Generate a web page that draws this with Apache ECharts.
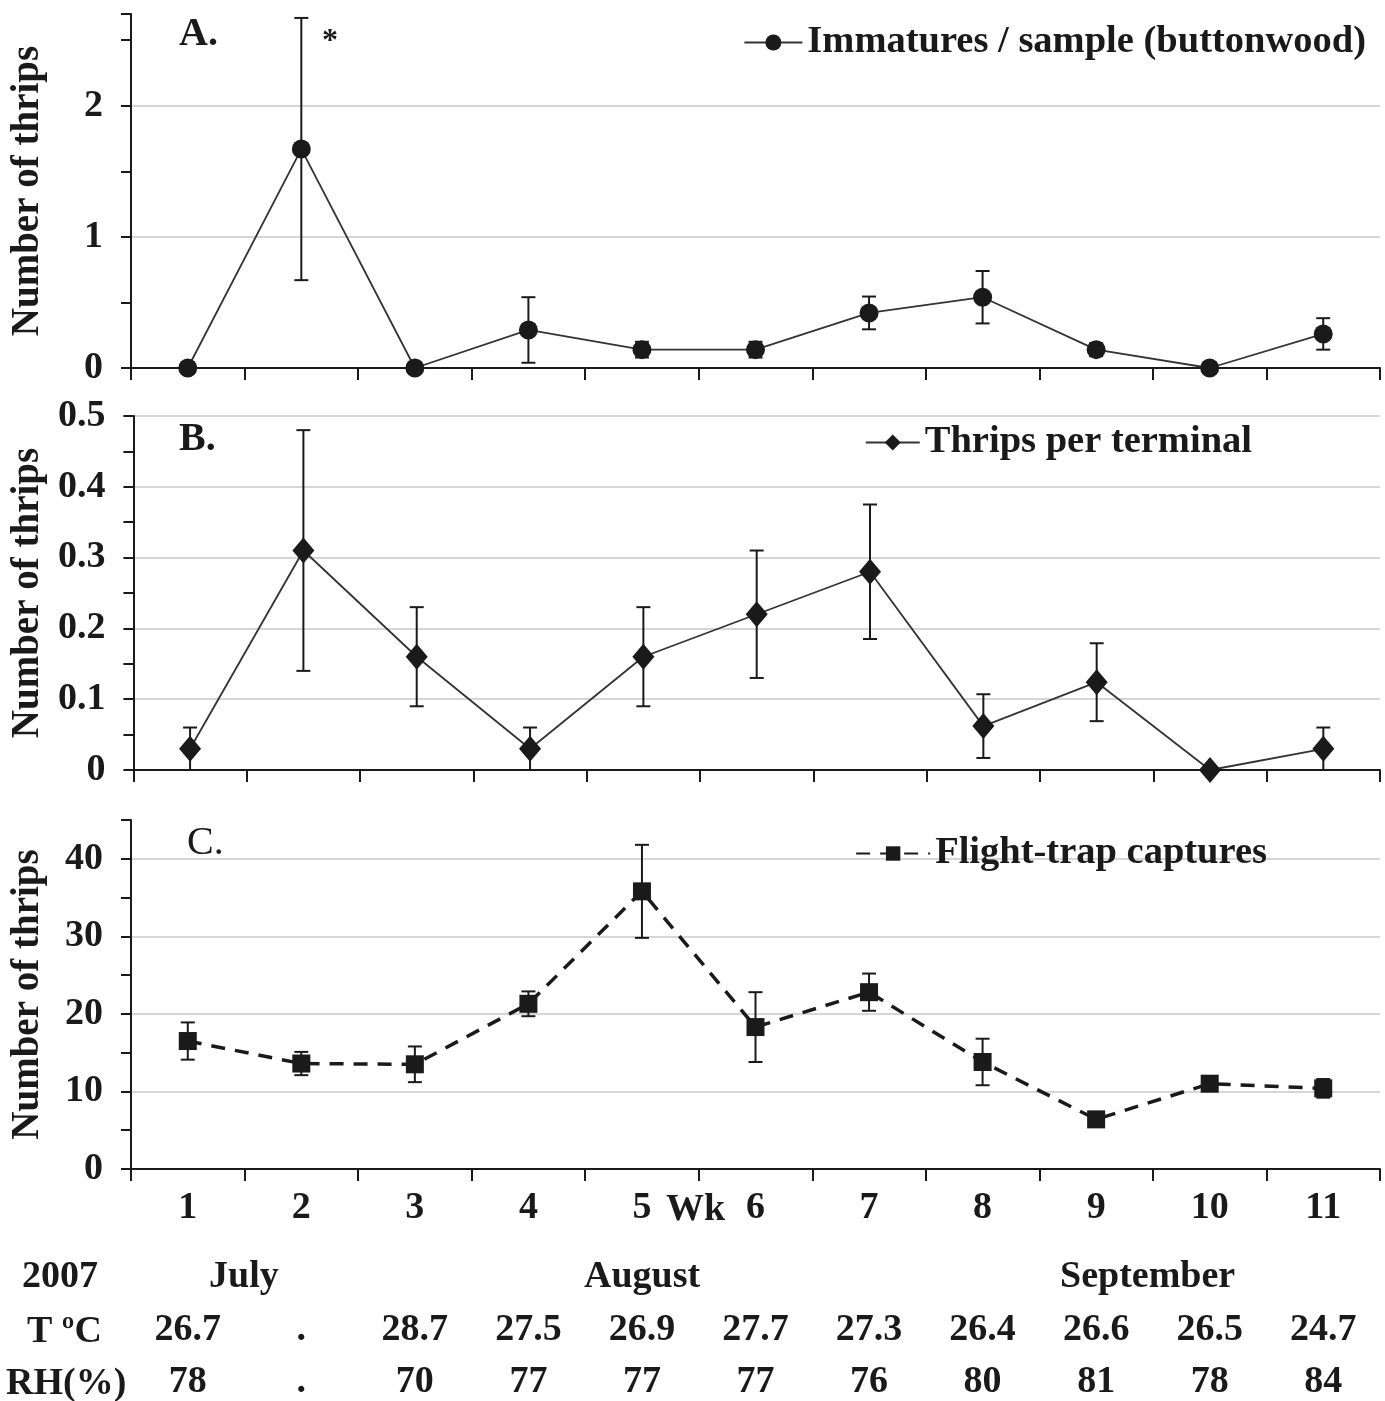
<!DOCTYPE html>
<html><head><meta charset="utf-8">
<script src="https://cdn.jsdelivr.net/npm/echarts@6/dist/echarts.min.js"></script>
<style>html,body{margin:0;padding:0;background:#fff}#c{width:1385px;height:1401px}</style>
</head><body><div id="c"></div>
<script>
const weeks = ['1','2','3','4','5','6','7','8','9','10','11'];
const immMean = [0, 1.67, 0, 0.29, 0.14, 0.14, 0.42, 0.54, 0.14, 0, 0.26];
const immErr  = [0, 1.0, 0, 0.25, 0.06, 0.06, 0.125, 0.2, 0.05, 0, 0.12];
const terMean = [0.03, 0.31, 0.16, 0.03, 0.16, 0.22, 0.28, 0.062, 0.124, 0, 0.03];
const terErr  = [0.03, 0.17, 0.07, 0.03, 0.07, 0.09, 0.095, 0.045, 0.055, 0, 0.03];
const trapMean = [16.5, 13.6, 13.5, 21.3, 35.8, 18.3, 22.8, 13.8, 6.4, 11.0, 10.4];
const trapErr  = [2.4, 1.5, 2.3, 1.6, 6.0, 4.5, 2.4, 3.0, 0.5, 0.8, 1.2];
const tempC = ['26.7','.','28.7','27.5','26.9','27.7','27.3','26.4','26.6','26.5','24.7'];
const rhPct = ['78','.','70','77','77','77','76','80','81','78','84'];
const months = ['July','August','September'];
const rowLabels = ['2007','T \u00baC','RH(%)'];
const seriesNames = ['Immatures / sample (buttonwood)','Thrips per terminal','Flight-trap captures'];

const FONT = 'Liberation Serif';
const INK = '#1a1a1a';
const chart = echarts.init(document.getElementById('c'));

function errBars(means, errs) {
  return means.map((m, i) => [i, m, errs[i]]);
}
function renderErr(params, api) {
  const x = api.value(0), m = api.value(1), e = api.value(2);
  if (!e) return null;
  const hi = api.coord([x, m + e]);
  const lo = api.coord([x, m - e]);
  const w = 7;
  const st = {stroke: INK, lineWidth: 2};
  return {type: 'group', children: [
    {type: 'line', shape: {x1: hi[0], y1: hi[1], x2: lo[0], y2: lo[1]}, style: st},
    {type: 'line', shape: {x1: hi[0]-w, y1: hi[1], x2: hi[0]+w, y2: hi[1]}, style: st},
    {type: 'line', shape: {x1: lo[0]-w, y1: lo[1], x2: lo[0]+w, y2: lo[1]}, style: st}
  ]};
}

const grids = [
  {left: 128, right: 5, top: 14, height: 354},
  {left: 128, right: 5, top: 416, height: 354},
  {left: 128, right: 5, top: 820, height: 352}
];

const axLine = {show: true, lineStyle: {color: INK, width: 2}};
const labelFont = {fontFamily: FONT, fontWeight: 'bold', fontSize: 38, color: INK};
const legendFont = {fontFamily: FONT, fontWeight: 'bold', fontSize: 38.5, color: INK};

function catAxis(gi, extra) {
  return Object.assign({
    type: 'category', gridIndex: gi, data: weeks, boundaryGap: true,
    axisLine: axLine,
    axisTick: {show: true, length: 12, lineStyle: {color: INK, width: 2}},
    axisLabel: {show: false},
    splitLine: {show: false}
  }, extra || {});
}
function rowAxis(data, offset) {
  return {
    type: 'category', gridIndex: 2, data: data, position: 'bottom', offset: offset,
    axisLine: {show: false}, axisTick: {show: false}, splitLine: {show: false},
    axisLabel: Object.assign({show: true, margin: 20, interval: 0}, labelFont)
  };
}
const yName = {
  name: 'Number of thrips', nameLocation: 'middle', nameGap: 84, nameRotate: 90,
  nameTextStyle: {fontFamily: FONT, fontWeight: 'bold', fontSize: 39, color: INK}
};
function majorY(gi, max, interval, extra) {
  return Object.assign({
    type: 'value', gridIndex: gi, position: 'left', min: 0, max: max, interval: interval,
    axisLine: axLine,
    axisTick: {show: false},
    axisLabel: Object.assign({margin: 28, showMaxLabel: false}, labelFont),
    splitLine: {show: true, showMaxLine: false, lineStyle: {color: '#d6d6d6', width: 2}}
  }, yName, extra || {});
}
function minorY(gi, max, interval) {
  return {
    type: 'value', gridIndex: gi, position: 'left', offset: 0, min: 0, max: max, interval: interval,
    axisLine: {show: false},
    axisTick: {show: true, length: 10, lineStyle: {color: INK, width: 2}},
    axisLabel: {show: false}, splitLine: {show: false}
  };
}

const option = {
  animation: false,
  backgroundColor: '#fff',
  grid: grids,
  title: [
    {text: 'A.', left: 174, top: 10, textStyle: {fontFamily: FONT, fontWeight: 'bold', fontSize: 40, color: INK}},
    {text: 'B.', left: 174, top: 415, textStyle: {fontFamily: FONT, fontWeight: 'bold', fontSize: 40, color: INK}},
    {text: 'C.', left: 182, top: 818, textStyle: {fontFamily: FONT, fontWeight: 'normal', fontSize: 40, color: INK}}
  ],
  legend: [
    {data: [seriesNames[0]], right: 14, top: 18, itemWidth: 58, itemHeight: 20, textStyle: legendFont},
    {data: [seriesNames[1]], right: 128, top: 418, itemWidth: 54, itemHeight: 20, textStyle: legendFont},
    {data: [seriesNames[2]], right: 113, top: 829, itemWidth: 74, itemHeight: 18, textStyle: legendFont}
  ],
  xAxis: [
    catAxis(0),
    catAxis(1),
    catAxis(2, {axisLabel: Object.assign({show: true, margin: 20, interval: 0}, labelFont)}),
    rowAxis(tempC, 122),
    rowAxis(rhPct, 174)
  ],
  yAxis: [
    majorY(0, 2.7, 1),
    minorY(0, 2.7, 0.5),
    Object.assign(majorY(1, 0.5, 0.1), {
      axisTick: {show: true, length: 10, lineStyle: {color: INK, width: 2}},
      minorTick: {show: true, splitNumber: 2, length: 10, lineStyle: {color: INK, width: 2}},
      axisLabel: Object.assign({margin: 28, showMaxLabel: true}, labelFont),
      splitLine: {show: true, showMaxLine: true, lineStyle: {color: '#d6d6d6', width: 2}}
    }),
    majorY(2, 45, 10),
    minorY(2, 45, 5)
  ],
  series: [
    {type: 'custom', xAxisIndex: 0, yAxisIndex: 0, data: errBars(immMean, immErr), renderItem: renderErr, z: 1, clip: false},
    {name: seriesNames[0], type: 'line', xAxisIndex: 0, yAxisIndex: 0, data: immMean,
     symbol: 'circle', symbolSize: 19, z: 3,
     lineStyle: {color: '#333', width: 1.8}, itemStyle: {color: INK}},
    {type: 'custom', xAxisIndex: 1, yAxisIndex: 2, data: errBars(terMean, terErr), renderItem: renderErr, z: 1, clip: false},
    {name: seriesNames[1], type: 'line', xAxisIndex: 1, yAxisIndex: 2, data: terMean,
     symbol: 'diamond', symbolSize: [22, 26], z: 3,
     lineStyle: {color: '#333', width: 1.8}, itemStyle: {color: INK}},
    {type: 'custom', xAxisIndex: 2, yAxisIndex: 3, data: errBars(trapMean, trapErr), renderItem: renderErr, z: 1, clip: false},
    {name: seriesNames[2], type: 'line', xAxisIndex: 2, yAxisIndex: 3, data: trapMean,
     symbol: 'rect', symbolSize: 18, z: 3,
     lineStyle: {color: INK, width: 3.5, type: [14, 10]}, itemStyle: {color: INK}}
  ],
  graphic: [
    {type: 'text', left: 322, top: 26, style: {text: '*', font: 'bold 32px "Liberation Serif"', fill: INK}},
    {type: 'text', left: 666, top: 1191, style: {text: 'Wk', font: 'bold 38px "Liberation Serif"', fill: INK}},
    {type: 'text', left: 22, top: 1258, style: {text: rowLabels[0], font: 'bold 38px "Liberation Serif"', fill: INK}},
    {type: 'text', left: 27, top: 1313, style: {text: rowLabels[1], font: 'bold 38px "Liberation Serif"', fill: INK}},
    {type: 'text', left: 6, top: 1365, style: {text: rowLabels[2], font: 'bold 38px "Liberation Serif"', fill: INK}},
    {type: 'text', left: 209, top: 1258, style: {text: months[0], font: 'bold 38px "Liberation Serif"', fill: INK}},
    {type: 'text', left: 584, top: 1258, style: {text: months[1], font: 'bold 38px "Liberation Serif"', fill: INK}},
    {type: 'text', left: 1060, top: 1258, style: {text: months[2], font: 'bold 38px "Liberation Serif"', fill: INK}}
  ]
};
chart.setOption(option);
</script></body></html>
